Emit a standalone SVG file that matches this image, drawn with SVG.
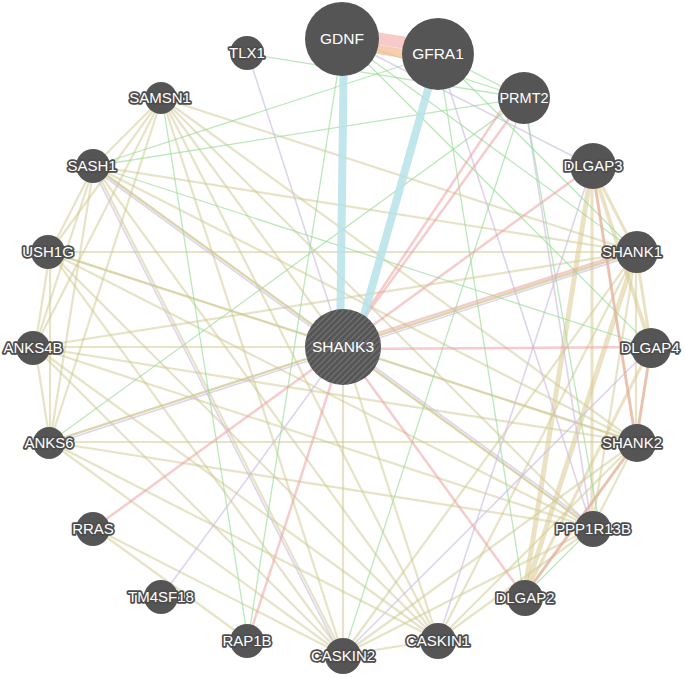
<svg xmlns="http://www.w3.org/2000/svg" width="685" height="677" viewBox="0 0 685 677">
<defs>
<pattern id="hatch" width="6" height="6" patternUnits="userSpaceOnUse">
<path d="M0,6 L6,0 M-1,1 L1,-1 M5,7 L7,5" stroke="#707070" stroke-width="1.3"/>
</pattern>
</defs>
<style>
line{fill:none;stroke-linecap:butt}
.k{stroke:#cdc88e;stroke-width:2.2;stroke-opacity:.5}
.kt{stroke:#d9cb92;stroke-opacity:.55}
.p{stroke:#eda3a3;stroke-width:2.5;stroke-opacity:.55}
.g{stroke:#96dc96;stroke-width:1.3;stroke-opacity:.65}
.v{stroke:#cdbde2;stroke-width:1.6;stroke-opacity:.65}
.c{stroke:#b6e2e9;stroke-width:8;stroke-opacity:.85}
.o{stroke:#f4b88e;stroke-width:9;stroke-opacity:.7}
.pp{stroke:#f2acac;stroke-width:12;stroke-opacity:.65}
.n circle{fill:#555555}
.n text{font-family:"Liberation Sans",Arial,sans-serif;font-size:15px;fill:#ffffff;text-anchor:middle;stroke:#4d4d4d;stroke-width:3.5px;stroke-linejoin:round;paint-order:stroke}
.big text{font-size:15.5px;stroke:none}
</style>
<rect width="685" height="677" fill="#ffffff"/>
<g id="connectors">
<line class="k" x1="636" y1="252" x2="636" y2="442"/>
<line class="k" x1="636" y1="252" x2="343" y2="347"/>
<line class="k" x1="636" y1="252" x2="162" y2="98"/>
<line class="k" x1="636" y1="252" x2="94" y2="166"/>
<line class="k" x1="636" y1="252" x2="50" y2="252"/>
<line class="k" x1="636" y1="252" x2="35" y2="347"/>
<line class="k" x1="636" y1="252" x2="50" y2="442"/>
<line class="k" x1="636" y1="252" x2="438" y2="640"/>
<line class="k" x1="636" y1="252" x2="343" y2="655"/>
<line class="k" x1="636" y1="252" x2="592" y2="528"/>
<line class="k" x1="636" y1="442" x2="343" y2="347"/>
<line class="k" x1="636" y1="442" x2="162" y2="98"/>
<line class="k" x1="636" y1="442" x2="94" y2="166"/>
<line class="k" x1="636" y1="442" x2="50" y2="252"/>
<line class="k" x1="636" y1="442" x2="35" y2="347"/>
<line class="k" x1="636" y1="442" x2="50" y2="442"/>
<line class="k" x1="636" y1="442" x2="438" y2="640"/>
<line class="k" x1="636" y1="442" x2="343" y2="655"/>
<line class="k" x1="636" y1="442" x2="592" y2="528"/>
<line class="k" x1="343" y1="347" x2="162" y2="98"/>
<line class="k" x1="343" y1="347" x2="94" y2="166"/>
<line class="k" x1="343" y1="347" x2="50" y2="252"/>
<line class="k" x1="343" y1="347" x2="35" y2="347"/>
<line class="k" x1="343" y1="347" x2="50" y2="442"/>
<line class="k" x1="343" y1="347" x2="438" y2="640"/>
<line class="k" x1="343" y1="347" x2="343" y2="655"/>
<line class="k" x1="343" y1="347" x2="592" y2="528"/>
<line class="k" x1="162" y1="98" x2="94" y2="166"/>
<line class="k" x1="162" y1="98" x2="50" y2="252"/>
<line class="k" x1="162" y1="98" x2="35" y2="347"/>
<line class="k" x1="162" y1="98" x2="50" y2="442"/>
<line class="k" x1="162" y1="98" x2="438" y2="640"/>
<line class="k" x1="162" y1="98" x2="343" y2="655"/>
<line class="k" x1="162" y1="98" x2="592" y2="528"/>
<line class="k" x1="94" y1="166" x2="50" y2="252"/>
<line class="k" x1="94" y1="166" x2="35" y2="347"/>
<line class="k" x1="94" y1="166" x2="50" y2="442"/>
<line class="k" x1="94" y1="166" x2="438" y2="640"/>
<line class="k" x1="94" y1="166" x2="343" y2="655"/>
<line class="k" x1="94" y1="166" x2="592" y2="528"/>
<line class="k" x1="50" y1="252" x2="35" y2="347"/>
<line class="k" x1="50" y1="252" x2="50" y2="442"/>
<line class="k" x1="50" y1="252" x2="438" y2="640"/>
<line class="k" x1="50" y1="252" x2="343" y2="655"/>
<line class="k" x1="50" y1="252" x2="592" y2="528"/>
<line class="k" x1="35" y1="347" x2="50" y2="442"/>
<line class="k" x1="35" y1="347" x2="438" y2="640"/>
<line class="k" x1="35" y1="347" x2="343" y2="655"/>
<line class="k" x1="35" y1="347" x2="592" y2="528"/>
<line class="k" x1="50" y1="442" x2="438" y2="640"/>
<line class="k" x1="50" y1="442" x2="343" y2="655"/>
<line class="k" x1="50" y1="442" x2="592" y2="528"/>
<line class="k" x1="438" y1="640" x2="343" y2="655"/>
<line class="k" x1="438" y1="640" x2="592" y2="528"/>
<line class="k" x1="343" y1="655" x2="592" y2="528"/>
<line class="k" x1="94" y1="528" x2="248" y2="640"/>
<line class="k" x1="94" y1="528" x2="343" y2="655"/>
<line class="kt" stroke-width="5" x1="592" y1="166" x2="524" y2="596"/>
<line class="kt" stroke-width="5" x1="636" y1="252" x2="524" y2="596"/>
<line class="kt" stroke-width="4" x1="592" y1="166" x2="651" y2="347"/>
<line class="kt" stroke-width="3" x1="651" y1="347" x2="524" y2="596"/>
<line class="kt" stroke-width="3" x1="592" y1="166" x2="636" y2="252"/>
<line class="kt" stroke-width="3" x1="592" y1="166" x2="636" y2="442"/>
<line class="kt" stroke-width="3" x1="636" y1="252" x2="651" y2="347"/>
<line class="kt" stroke-width="3" x1="651" y1="347" x2="636" y2="442"/>
<line class="kt" stroke-width="3" x1="636" y1="442" x2="524" y2="596"/>
<line class="kt" stroke-width="3" x1="592" y1="166" x2="592" y2="528"/>
<line class="v" x1="248" y1="54" x2="343" y2="347"/>
<line class="v" x1="162" y1="596" x2="343" y2="347"/>
<line class="v" x1="343" y1="39" x2="592" y2="166"/>
<line class="v" x1="92.5" y1="168" x2="341.5" y2="349"/>
<line class="v" x1="91.8" y1="167.1" x2="340.8" y2="656.1"/>
<line class="v" x1="50.8" y1="444.4" x2="636.8" y2="254.4"/>
<line class="v" x1="344.5" y1="345" x2="593.5" y2="526"/>
<line class="v" x1="438" y1="640" x2="592" y2="166"/>
<line class="v" x1="343" y1="655" x2="651" y2="347"/>
<line class="v" x1="438" y1="54" x2="592" y2="528"/>
<line class="v" x1="524" y1="98" x2="592" y2="528"/>
<line class="g" x1="248" y1="640" x2="162" y2="98"/>
<line class="g" x1="248" y1="640" x2="343" y2="39"/>
<line class="g" x1="248" y1="54" x2="524" y2="98"/>
<line class="g" x1="94" y1="166" x2="438" y2="54"/>
<line class="g" x1="94" y1="166" x2="524" y2="98"/>
<line class="g" x1="94" y1="166" x2="651" y2="347"/>
<line class="g" x1="50" y1="442" x2="524" y2="98"/>
<line class="g" x1="438" y1="54" x2="524" y2="596"/>
<line class="g" x1="524" y1="98" x2="600" y2="528"/>
<line class="g" x1="438" y1="54" x2="636" y2="252"/>
<line class="g" x1="343" y1="39" x2="651" y2="347"/>
<line class="g" x1="343" y1="39" x2="524" y2="98"/>
<line class="g" x1="438" y1="54" x2="524" y2="98"/>
<line class="g" x1="343" y1="39" x2="636" y2="252"/>
<line class="g" x1="592" y1="528" x2="524" y2="596"/>
<line class="g" x1="524" y1="98" x2="343" y2="655"/>
<line class="p" x1="94" y1="528" x2="343" y2="347"/>
<line class="p" x1="248" y1="640" x2="343" y2="347"/>
<line class="p" x1="343" y1="349" x2="651" y2="347"/>
<line class="p" stroke-width="3.5" x1="343" y1="347" x2="592" y2="166"/>
<line class="p" stroke-width="3.5" x1="343" y1="347" x2="524" y2="98"/>
<line class="p" stroke-width="1.8" x1="343" y1="347" x2="512" y2="94"/>
<line class="p" x1="342.2" y1="344.6" x2="635.2" y2="249.6"/>
<line class="p" x1="343" y1="347" x2="524" y2="596"/>
<line class="p" x1="592" y1="166" x2="636" y2="442"/>
<line class="p" x1="636" y1="442" x2="524" y2="596"/>
<line class="p" stroke-width="1.8" x1="651" y1="347" x2="636" y2="442"/>
<line class="pp" x1="343" y1="33" x2="438" y2="48"/>
<line class="o" x1="343" y1="44" x2="438" y2="59"/>
<line class="c" x1="344" y1="39" x2="340" y2="347"/>
<line class="c" x1="438" y1="54" x2="355" y2="347"/>
</g>
<g id="node-GDNF" class="n big"><circle cx="342" cy="39" r="37"/><text x="342" y="44">GDNF</text></g>
<g id="node-GFRA1" class="n big"><circle cx="438" cy="54" r="36"/><text x="438" y="59">GFRA1</text></g>
<g id="node-PRMT2" class="n big"><circle cx="524" cy="98" r="26"/><text x="524" y="103" style="font-size:14.5px">PRMT2</text></g>
<g id="node-DLGAP3" class="n"><circle cx="593" cy="166" r="23"/><text x="593" y="171">DLGAP3</text></g>
<g id="node-SHANK1" class="n"><circle cx="637" cy="252" r="21"/><text x="632" y="257">SHANK1</text></g>
<g id="node-DLGAP4" class="n"><circle cx="651" cy="348" r="20"/><text x="650" y="353">DLGAP4</text></g>
<g id="node-SHANK2" class="n"><circle cx="637" cy="443" r="19"/><text x="632" y="448">SHANK2</text></g>
<g id="node-PPP1R13B" class="n"><circle cx="593" cy="529" r="18"/><text x="593" y="534">PPP1R13B</text></g>
<g id="node-DLGAP2" class="n"><circle cx="525" cy="598" r="18"/><text x="525" y="603">DLGAP2</text></g>
<g id="node-CASKIN1" class="n"><circle cx="438" cy="641" r="18"/><text x="438" y="646">CASKIN1</text></g>
<g id="node-CASKIN2" class="n"><circle cx="343" cy="656" r="18"/><text x="343" y="661">CASKIN2</text></g>
<g id="node-RAP1B" class="n"><circle cx="247" cy="641" r="17"/><text x="247" y="646">RAP1B</text></g>
<g id="node-TM4SF18" class="n"><circle cx="161" cy="597" r="17"/><text x="161" y="602">TM4SF18</text></g>
<g id="node-RRAS" class="n"><circle cx="93" cy="529" r="17"/><text x="93" y="534">RRAS</text></g>
<g id="node-ANKS6" class="n"><circle cx="49" cy="443" r="16"/><text x="49" y="448">ANKS6</text></g>
<g id="node-ANKS4B" class="n"><circle cx="33" cy="348" r="17"/><text x="33" y="353">ANKS4B</text></g>
<g id="node-USH1G" class="n"><circle cx="48" cy="252" r="17"/><text x="48" y="257">USH1G</text></g>
<g id="node-SASH1" class="n"><circle cx="93" cy="166" r="17"/><text x="92" y="171">SASH1</text></g>
<g id="node-SAMSN1" class="n"><circle cx="161" cy="98" r="16"/><text x="160" y="103">SAMSN1</text></g>
<g id="node-TLX1" class="n"><circle cx="247" cy="53" r="17"/><text x="247" y="58">TLX1</text></g>
<g id="node-SHANK3" class="n big"><circle cx="343" cy="347" r="38"/><circle cx="343" cy="347" r="38" style="fill:url(#hatch)"/><text x="343" y="352">SHANK3</text></g>
</svg>
